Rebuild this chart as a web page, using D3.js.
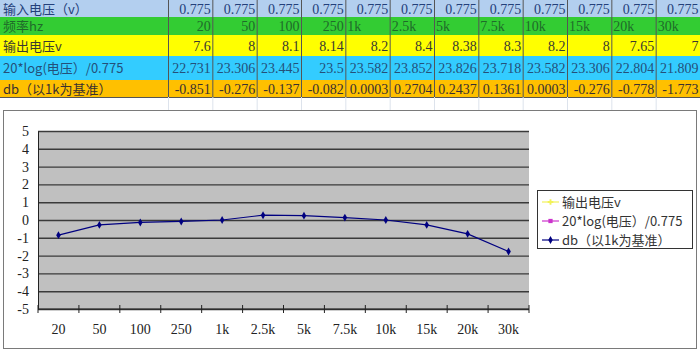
<!DOCTYPE html>
<html>
<head>
<meta charset="utf-8">
<script src="https://cdn.jsdelivr.net/npm/d3@7"></script>
<style>
  body { margin: 0; background: #fff; }
  svg { display: block; }
</style>
</head>
<body>
<svg id="main"></svg>
<script>
// table / chart data
const freqs = ['20', '50', '100', '250', '1k', '2.5k', '5k', '7.5k', '10k', '15k', '20k', '30k']
const inputV = [0.775, 0.775, 0.775, 0.775, 0.775, 0.775, 0.775, 0.775, 0.775, 0.775, 0.775, 0.775]
const outV = [7.6, 8, 8.1, 8.14, 8.2, 8.4, 8.38, 8.3, 8.2, 8, 7.65, 7]
const logV = [22.731, 23.306, 23.445, 23.5, 23.582, 23.852, 23.826, 23.718, 23.582, 23.306, 22.804, 21.809]
const dbV = [-0.851, -0.276, -0.137, -0.082, 0.0003, 0.2704, 0.2437, 0.1361, 0.0003, -0.276, -0.778, -1.773]
const rowLabels = ['输入电压（v）', '频率hz', '输出电压v', '20*log(电压）/0.775', 'db（以1k为基准）']
const yTicks = [5, 4, 3, 2, 1, 0, -1, -2, -3, -4, -5]
const seriesNames = ['输出电压v', '20*log(电压）/0.775', 'db（以1k为基准）']

const width = 700
const height = 352
const numFont = '"Liberation Serif", "DejaVu Serif", serif'
const cjkFont = '"Noto Sans CJK SC", "Liberation Serif", serif'

let svg = d3.select('#main').attr('width', width).attr('height', height)

// ---------- spreadsheet table ----------
let rowTops = [0, 17, 35, 56, 80, 97]
let rowFill = ['#b3cfef', '#33cc33', '#ffff00', '#33ccff', '#ffc000']
let rowText = ['#24407a', '#1f6a2a', '#3a3a30', '#24507a', '#3a3030']
let rows = [
  inputV.map(v => ({ t: String(v), num: true })),
  freqs.map(f => ({ t: f, num: !/k$/.test(f) })),
  outV.map(v => ({ t: String(v), num: true })),
  logV.map(v => ({ t: String(v), num: true })),
  dbV.map(v => ({ t: String(v), num: true }))
]
let colScale = d3.scaleBand().domain(d3.range(freqs.length)).range([168, width])

let table = svg.append('g')
rows.forEach((cells, r) => {
  let y0 = rowTops[r], y1 = rowTops[r + 1]
  let g = table.append('g')
  g.append('rect').attr('x', 0).attr('y', y0).attr('width', width).attr('height', y1 - y0)
    .attr('fill', rowFill[r])
  g.append('text')
    .attr('x', 3).attr('y', (y0 + y1) / 2 + 5)
    .attr('fill', rowText[r])
    .style('font-family', cjkFont).style('font-size', '13px')
    .text(rowLabels[r])
  g.selectAll('text.cell').data(cells).join('text')
    .attr('class', 'cell')
    .attr('x', (d, i) => d.num ? colScale(i) + colScale.bandwidth() - 1.5 : colScale(i) + 2)
    .attr('y', (y0 + y1) / 2 + 5)
    .attr('text-anchor', d => d.num ? 'end' : 'start')
    .attr('fill', rowText[r])
    .style('font-family', numFont).style('font-size', '14px')
    .text(d => d.t)
  // row border
  g.append('line').attr('x1', 0).attr('x2', width).attr('y1', y1 + 0.5).attr('y2', y1 + 0.5)
    .attr('stroke', '#555').attr('stroke-width', 1)
})
// column borders
table.selectAll('line.col').data(d3.range(freqs.length)).join('line')
  .attr('class', 'col')
  .attr('x1', i => colScale(i) + 0.5).attr('x2', i => colScale(i) + 0.5)
  .attr('y1', 0).attr('y2', rowTops[5])
  .attr('stroke', '#555')
// faint empty spreadsheet row below
table.selectAll('line.faint').data(d3.range(freqs.length)).join('line')
  .attr('class', 'faint')
  .attr('x1', i => colScale(i) + 0.5).attr('x2', i => colScale(i) + 0.5)
  .attr('y1', rowTops[5]).attr('y2', 110)
  .attr('stroke', '#dde3ec')

// ---------- chart ----------
svg.append('rect')
  .attr('x', 3.5).attr('y', 110.5).attr('width', 693).attr('height', 238)
  .attr('fill', '#fff').attr('stroke', '#7a7a7a')

let plot = { left: 38, right: 529, top: 131, bottom: 309 }
let xScale = d3.scaleBand().domain(freqs).range([plot.left, plot.right])
let yScale = d3.scaleLinear().domain([-5, 5]).range([plot.bottom, plot.top])

svg.append('defs').append('clipPath').attr('id', 'plotClip')
  .append('rect').attr('x', plot.left).attr('y', plot.top)
  .attr('width', plot.right - plot.left).attr('height', plot.bottom - plot.top)

svg.append('rect')
  .attr('x', plot.left).attr('y', plot.top)
  .attr('width', plot.right - plot.left).attr('height', plot.bottom - plot.top)
  .attr('fill', '#c0c0c0')

// horizontal grid
svg.append('g')
  .attr('transform', 'translate(' + plot.left + ',0)')
  .call(d3.axisLeft(yScale).tickValues(yTicks).tickSize(-(plot.right - plot.left)).tickFormat(''))
  .call(g => g.select('.domain').remove())
  .call(g => g.selectAll('line').attr('stroke', '#3a3a3a').attr('stroke-width', 1.4))

// y labels
svg.append('g')
  .attr('transform', 'translate(' + plot.left + ',0)')
  .call(d3.axisLeft(yScale).tickValues(yTicks).tickSize(0).tickPadding(9).tickFormat(d => d))
  .call(g => g.select('.domain').attr('stroke', '#222'))
  .call(g => g.selectAll('text')
    .attr('fill', '#222')
    .style('font-family', '"Liberation Serif", serif')
    .style('font-size', '14px'))

// x axis along -5 with ticks at category boundaries
svg.append('line')
  .attr('x1', plot.left).attr('x2', plot.right)
  .attr('y1', plot.bottom).attr('y2', plot.bottom)
  .attr('stroke', '#222')
svg.append('g').selectAll('line').data(freqs.concat(['end'])).join('line')
  .attr('x1', (d, i) => plot.left + i * xScale.bandwidth())
  .attr('x2', (d, i) => plot.left + i * xScale.bandwidth())
  .attr('y1', plot.bottom - 4).attr('y2', plot.bottom + 4)
  .attr('stroke', '#222')
svg.append('g').selectAll('text').data(freqs).join('text')
  .attr('x', d => xScale(d) + xScale.bandwidth() / 2)
  .attr('y', 334)
  .attr('text-anchor', 'middle')
  .attr('fill', '#222')
  .style('font-family', '"Liberation Serif", serif')
  .style('font-size', '14px')
  .text(d => d)

// series
let seriesVals = [outV, logV, dbV]
let seriesColor = ['#f2f25a', '#cc33cc', '#000080']
let seriesSym = [d3.symbolCross, d3.symbolSquare, d3.symbolDiamond]
let line = d3.line()
  .x((d, i) => xScale(freqs[i]) + xScale.bandwidth() / 2)
  .y(d => yScale(d))

let series = svg.append('g').attr('clip-path', 'url(#plotClip)')
seriesVals.forEach((vals, s) => {
  series.append('path')
    .attr('d', line(vals))
    .attr('fill', 'none')
    .attr('stroke', seriesColor[s])
    .attr('stroke-width', 1.2)
  series.selectAll('path.m' + s).data(vals).join('path')
    .attr('class', 'm' + s)
    .attr('transform', (d, i) => 'translate(' + (xScale(freqs[i]) + xScale.bandwidth() / 2) + ',' + yScale(d) + ')')
    .attr('d', d3.symbol().type(seriesSym[s]).size(18))
    .attr('fill', seriesColor[s])
})

// legend
let legend = svg.append('g')
legend.append('rect')
  .attr('x', 537.5).attr('y', 190.5).attr('width', 155).attr('height', 58)
  .attr('fill', '#fff').attr('stroke', '#333')
seriesNames.forEach((name, s) => {
  let y = 202 + s * 19
  legend.append('line')
    .attr('x1', 542).attr('x2', 559).attr('y1', y).attr('y2', y)
    .attr('stroke', seriesColor[s]).attr('stroke-width', 1.2)
  legend.append('path')
    .attr('transform', 'translate(550.5,' + y + ')')
    .attr('d', d3.symbol().type(seriesSym[s]).size(18))
    .attr('fill', seriesColor[s])
  legend.append('text')
    .attr('x', 562).attr('y', y + 5)
    .attr('fill', '#333')
    .style('font-family', cjkFont).style('font-size', '13px')
    .text(name)
})
</script>
</body>
</html>
